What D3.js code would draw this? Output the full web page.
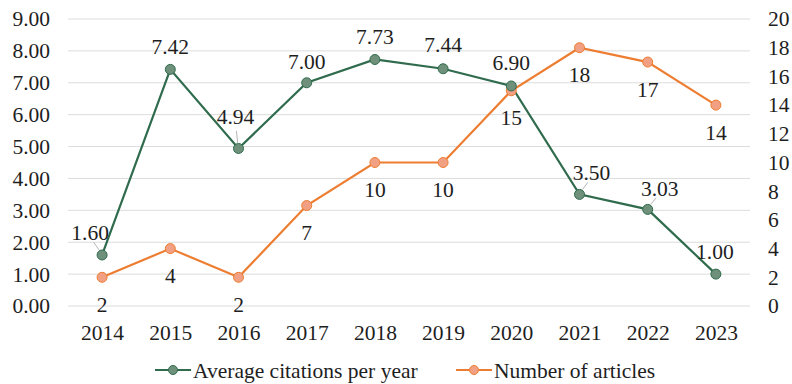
<!DOCTYPE html>
<html>
<head>
<meta charset="utf-8">
<script src="https://cdn.jsdelivr.net/npm/d3@7"></script>
</head>
<body style="margin:0;background:#fff">
<div id="chart"></div>
<script>
const years = ['2014', '2015', '2016', '2017', '2018', '2019', '2020', '2021', '2022', '2023'];
const avgCitations = [1.60, 7.42, 4.94, 7.00, 7.73, 7.44, 6.90, 3.50, 3.03, 1.00];
const articles = [2, 4, 2, 7, 10, 10, 15, 18, 17, 14];
const leftTicks = [0, 1, 2, 3, 4, 5, 6, 7, 8, 9];
const rightTicks = [0, 2, 4, 6, 8, 10, 12, 14, 16, 18, 20];

// label placement relative to the point (styling only)
const citeLabelOffset = [[-12, -23], [0, -23], [-3, -32], [0, -21], [0, -23], [0, -24], [0, -23], [12, -22], [12, -21], [-1, -23]];

const width = 792, height = 384;
const margin = { top: 19, right: 42, bottom: 78, left: 68 };
const font = 'Liberation Serif';
const fontSize = 21.5;
const textColor = '#1e1e1e';
const green = '#2f6b4c', greenFill = '#6f917b';
const orange = '#ed7d31', orangeFill = '#f2a083';

const svg = d3.select('#chart').append('svg')
    .attr('width', width)
    .attr('height', height)
    .attr('font-family', font)
    .style('display', 'block');

const x = d3.scalePoint()
    .domain(years)
    .range([margin.left, width - margin.right])
    .padding(0.5);

const yLeft = d3.scaleLinear()
    .domain([0, 9])
    .range([height - margin.bottom, margin.top]);

const yRight = d3.scaleLinear()
    .domain([0, 20])
    .range([height - margin.bottom, margin.top]);

function styleText(sel) {
    sel.attr('font-family', font)
        .attr('font-size', fontSize)
        .attr('fill', textColor);
}

// gridlines
svg.append('g')
    .selectAll('line')
    .data(leftTicks)
    .join('line')
    .attr('x1', margin.left)
    .attr('x2', width - margin.right)
    .attr('y1', d => yLeft(d))
    .attr('y2', d => yLeft(d))
    .attr('stroke', '#dcdcdc')
    .attr('stroke-width', 1);

// left axis
const leftAxis = svg.append('g')
    .attr('transform', `translate(${margin.left - 18}, 0)`)
    .call(d3.axisLeft(yLeft).tickValues(leftTicks).tickFormat(d3.format('.2f')).tickSize(0).tickPadding(0));
leftAxis.attr('font-family', font);
leftAxis.select('.domain').remove();
leftAxis.selectAll('text').call(styleText);

// right axis
const rightAxis = svg.append('g')
    .attr('transform', `translate(${width - 24}, 0)`)
    .call(d3.axisRight(yRight).tickValues(rightTicks).tickSize(0).tickPadding(0));
rightAxis.attr('font-family', font);
rightAxis.select('.domain').remove();
rightAxis.selectAll('text').call(styleText);

// x axis
const xAxis = svg.append('g')
    .attr('transform', `translate(0, ${height - margin.bottom + 13})`)
    .call(d3.axisBottom(x).tickSize(0).tickPadding(6));
xAxis.attr('font-family', font);
xAxis.select('.domain').remove();
xAxis.selectAll('text').call(styleText);

// lines
const citeLine = d3.line()
    .x((d, i) => x(years[i]))
    .y(d => yLeft(d));
const artLine = d3.line()
    .x((d, i) => x(years[i]))
    .y(d => yRight(d));

svg.append('path')
    .attr('d', artLine(articles))
    .attr('fill', 'none')
    .attr('stroke', orange)
    .attr('stroke-width', 2.2);

svg.append('path')
    .attr('d', citeLine(avgCitations))
    .attr('fill', 'none')
    .attr('stroke', green)
    .attr('stroke-width', 2.2);

svg.append('g')
    .selectAll('circle')
    .data(articles)
    .join('circle')
    .attr('cx', (d, i) => x(years[i]))
    .attr('cy', d => yRight(d))
    .attr('r', 5)
    .attr('fill', orangeFill)
    .attr('stroke', orange)
    .attr('stroke-width', 1);

svg.append('g')
    .selectAll('circle')
    .data(avgCitations)
    .join('circle')
    .attr('cx', (d, i) => x(years[i]))
    .attr('cy', d => yLeft(d))
    .attr('r', 5)
    .attr('fill', greenFill)
    .attr('stroke', green)
    .attr('stroke-width', 1);

// leader lines for offset labels
svg.append('g')
    .selectAll('line')
    .data(avgCitations.map((d, i) => ({ d, i })).filter(o => Math.abs(citeLabelOffset[o.i][0]) > 5 || citeLabelOffset[o.i][1] < -28))
    .join('line')
    .attr('x1', o => x(years[o.i]) + citeLabelOffset[o.i][0] * 0.25)
    .attr('y1', o => yLeft(o.d) - 5)
    .attr('x2', o => x(years[o.i]) + citeLabelOffset[o.i][0] * 0.7)
    .attr('y2', o => yLeft(o.d) + citeLabelOffset[o.i][1] * 0.55)
    .attr('stroke', '#b5b5b5')
    .attr('stroke-width', 1);

// data labels
svg.append('g')
    .selectAll('text')
    .data(avgCitations)
    .join('text')
    .attr('x', (d, i) => x(years[i]) + citeLabelOffset[i][0])
    .attr('y', (d, i) => yLeft(d) + citeLabelOffset[i][1])
    .attr('dy', '0.35em')
    .attr('text-anchor', 'middle')
    .call(styleText)
    .text(d => d3.format('.2f')(d));

svg.append('g')
    .selectAll('text')
    .data(articles)
    .join('text')
    .attr('x', (d, i) => x(years[i]))
    .attr('y', d => yRight(d) + 27)
    .attr('dy', '0.35em')
    .attr('text-anchor', 'middle')
    .call(styleText)
    .text(d => d);

// legend
const legendItems = [
    { name: 'Average citations per year', color: green, fill: greenFill, x: 155 },
    { name: 'Number of articles', color: orange, fill: orangeFill, x: 456 }
];
const legend = svg.append('g').attr('transform', 'translate(0, 370)');
legendItems.forEach(item => {
    const g = legend.append('g').attr('transform', `translate(${item.x}, 0)`);
    g.append('line')
        .attr('x1', 0).attr('x2', 36)
        .attr('stroke', item.color)
        .attr('stroke-width', 2.2);
    g.append('circle')
        .attr('cx', 18).attr('r', 4.5)
        .attr('fill', item.fill)
        .attr('stroke', item.color);
    g.append('text')
        .attr('x', 38)
        .attr('dy', '0.35em')
        .call(styleText)
        .text(item.name);
});
</script>
</body>
</html>
